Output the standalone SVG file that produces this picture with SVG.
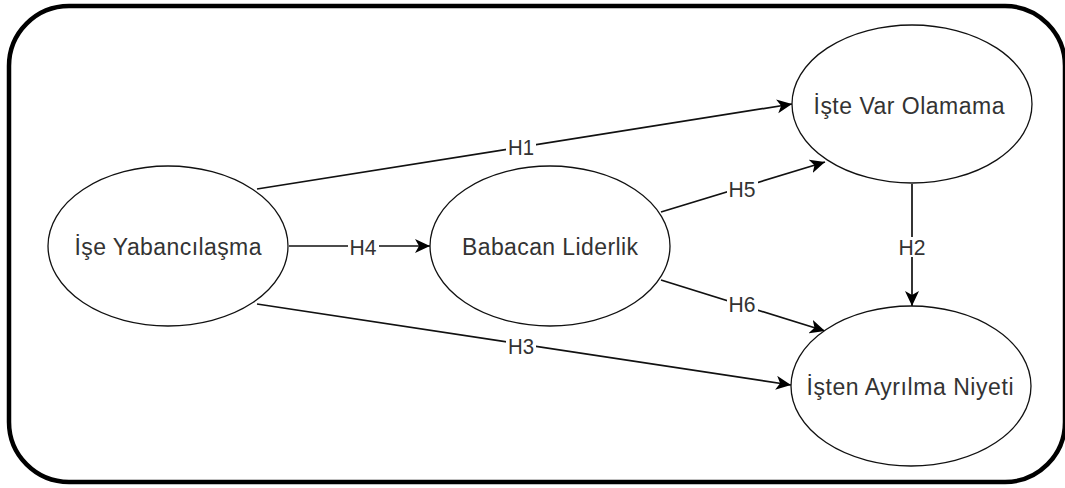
<svg xmlns="http://www.w3.org/2000/svg" width="1065" height="488" viewBox="0 0 1065 488">
  <defs>
    <marker id="arrow" markerUnits="userSpaceOnUse" markerWidth="17" markerHeight="15" refX="15" refY="7" orient="auto">
      <path d="M0,0 L15,7 L0,14 L4,7 Z" fill="#000"/>
    </marker>
  </defs>
  <style>
    .frame { fill: #fff; stroke: #000; stroke-width: 4.5; }
    .node ellipse { fill: #fff; stroke: #111; stroke-width: 1.3; }
    .node text { font-family: "Liberation Sans", Arial, sans-serif; font-size: 23px; fill: #333; text-anchor: middle; }
    .edge { fill: none; stroke: #111; stroke-width: 1.7; marker-end: url(#arrow); }
    .lbl { font-family: "Liberation Sans", Arial, sans-serif; font-size: 22px; fill: #333; text-anchor: middle; }
    .lblbg { fill: #fff; }
  </style>

  <rect width="1065" height="488" fill="#fff"/>
  <rect class="frame" x="9" y="6" width="1056" height="476" rx="60" ry="60"/>

  <g id="connectors">
    <line class="edge" x1="257" y1="189" x2="792" y2="104"/>
    <line class="edge" x1="289" y1="246" x2="430" y2="246"/>
    <line class="edge" x1="257" y1="304" x2="791" y2="385"/>
    <line class="edge" x1="661" y1="212" x2="825" y2="162"/>
    <line class="edge" x1="661" y1="280" x2="825" y2="331"/>
    <line class="edge" x1="912" y1="184" x2="912" y2="306"/>

    <rect class="lblbg" x="506" y="137" width="30" height="20"/>
    <text class="lbl" x="521" y="155" textLength="26" lengthAdjust="spacingAndGlyphs">H1</text>
    <rect class="lblbg" x="348" y="236" width="31" height="20"/>
    <text class="lbl" x="363" y="255" textLength="27" lengthAdjust="spacingAndGlyphs">H4</text>
    <rect class="lblbg" x="506" y="336" width="30" height="20"/>
    <text class="lbl" x="521" y="354" textLength="26" lengthAdjust="spacingAndGlyphs">H3</text>
    <rect class="lblbg" x="727" y="180" width="31" height="20"/>
    <text class="lbl" x="742" y="197" textLength="27" lengthAdjust="spacingAndGlyphs">H5</text>
    <rect class="lblbg" x="727" y="294" width="31" height="20"/>
    <text class="lbl" x="742" y="312" textLength="27" lengthAdjust="spacingAndGlyphs">H6</text>
    <rect class="lblbg" x="897" y="237" width="31" height="20"/>
    <text class="lbl" x="912" y="255" textLength="27" lengthAdjust="spacingAndGlyphs">H2</text>
  </g>

  <g id="ise-yabancilasma" class="node">
    <ellipse cx="168" cy="246" rx="120" ry="80"/>
    <text x="168" y="255" textLength="187" lengthAdjust="spacing">İşe Yabancılaşma</text>
  </g>

  <g id="babacan-liderlik" class="node">
    <ellipse cx="550" cy="246" rx="120" ry="80"/>
    <text x="550" y="255" textLength="176" lengthAdjust="spacing">Babacan Liderlik</text>
  </g>

  <g id="iste-var-olamama" class="node">
    <ellipse cx="912" cy="104" rx="120" ry="79"/>
    <text x="909" y="114" textLength="191" lengthAdjust="spacing">İşte Var Olamama</text>
  </g>

  <g id="isten-ayrilma-niyeti" class="node">
    <ellipse cx="911" cy="386" rx="120" ry="80"/>
    <text x="910" y="395" textLength="207" lengthAdjust="spacing">İşten Ayrılma Niyeti</text>
  </g>
</svg>
